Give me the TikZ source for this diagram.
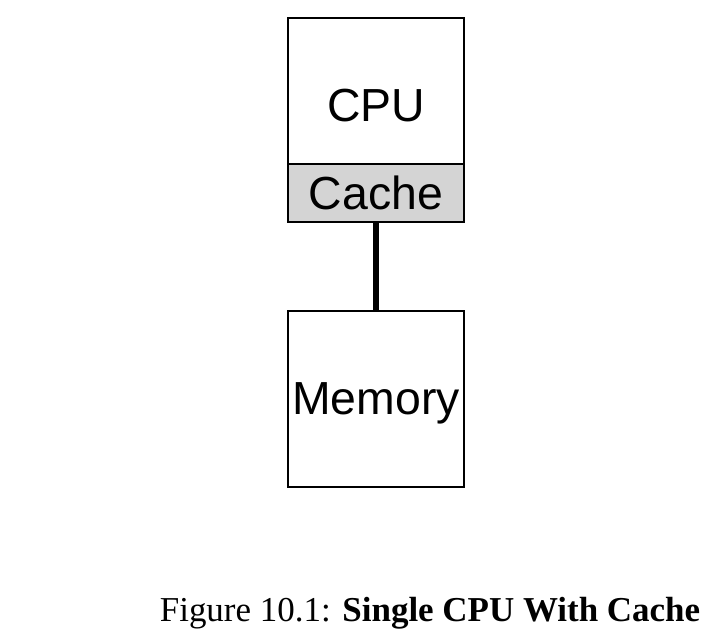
\documentclass[tikz,border=0pt]{standalone}
\usepackage{fontspec}
\setmainfont{Liberation Serif}
\newfontfamily\boxfont{Liberation Sans}
\tikzset{
  unitbox/.style={draw, line width=0.6pt, minimum width=3.52cm, inner sep=0pt,
    font=\boxfont\fontsize{26.4}{30}\selectfont},
  unitlabel/.style={font=\boxfont\fontsize{26.4}{30}\selectfont, inner sep=0pt},
  buswire/.style={line width=3.2pt}
}
\begin{document}
\begin{tikzpicture}[x=0.02cm,y=-0.02cm]
    \useasboundingbox (0,0) rectangle (726,642);

    % processore con cache
    \node[unitbox, minimum height=2.92cm,
          label={[unitlabel, yshift=-0.3cm]center:CPU}] (cpu) at (376,91) {};
    \node[unitbox, minimum height=1.16cm, fill=black!17] (cache) at (376,193) {Cache};

    % memoria
    \node[unitbox, minimum height=3.52cm,
          label={[unitlabel, yshift=-0.09cm]center:Memory}] (memory) at (376,399) {};

    \draw[buswire] (cache.south) -- (memory.north);

    \node[font=\fontsize{19.9}{24}\selectfont, anchor=base] (caption) at (430,621)
        {Figure 10.1: \textbf{Single CPU With Cache}};
\end{tikzpicture}
\end{document}
